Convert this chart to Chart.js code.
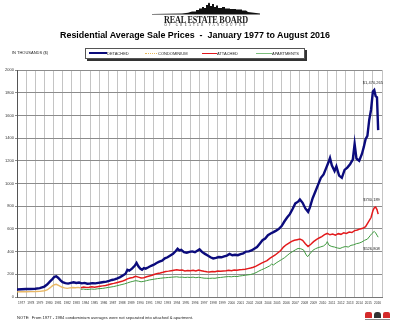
<!DOCTYPE html>
<html><head><meta charset="utf-8">
<script src="https://cdn.jsdelivr.net/npm/chart.js@4.4.1/dist/chart.umd.min.js"></script>
<style>
html,body{margin:0;padding:0;background:#fff;width:400px;height:326px;overflow:hidden;font-family:"Liberation Sans",Arial,sans-serif;}
#wrap{position:relative;width:400px;height:326px;}
canvas{position:absolute;left:0;top:0;}
.abs{position:absolute;white-space:nowrap;}
#title{left:195px;top:30px;font-weight:bold;font-size:9.2px;color:#000;transform:translateX(-50%) scaleX(0.97);transform-origin:50% 0;}
#reb{left:206px;top:12.5px;font-family:"Liberation Serif","DejaVu Serif",serif;font-size:11px;font-weight:bold;color:#1a1a1a;transform:translateX(-50%) scaleX(0.74);transform-origin:50% 0;letter-spacing:-0.2px;}
#ogv{left:206px;top:23px;font-family:"Liberation Serif",serif;font-size:3px;color:#222;letter-spacing:2.3px;transform:translateX(-50%);}
#units{left:12px;top:50px;font-size:4px;color:#222;}
#legend{left:85px;top:48px;width:218px;height:9px;border:1px solid #555;box-shadow:2px 2px 0 #333;background:#fff;}
.lg{position:absolute;top:3.5px;height:0;}
.lt{position:absolute;top:1.5px;font-size:4px;color:#222;}
#note{left:17px;top:315px;font-size:4.1px;color:#222;}
</style></head>
<body><div id="wrap">
<canvas id="c" width="400" height="326"></canvas>
<svg class="abs" style="left:152px;top:2px" width="108" height="13" viewBox="0 0 108 13">
<path d="M0 12 L30 11.4 L36 10.8 L40 9.5 L44 9.5 L44 8 L47 8 L47 6.5 L50 6.5 L50 5 L52 5 L52 6 L54 6 L54 3 L56 3 L56 1.5 L57 0.5 L58 1.5 L58 4 L60 4 L60 2 L62 2 L62 5 L64 5 L64 3.5 L66 3.5 L66 6 L70 6 L70 5 L73 5 L73 6.5 L78 6.5 L78 7 L84 7 L84 7.5 L90 7.5 L90 8.5 L94 8.5 L96 10 L104 11 L108 11.6 L108 12.6 L0 12.6 Z" fill="#111"/>
</svg>
<div id="reb" class="abs">REAL ESTATE BOARD</div>
<div id="ogv" class="abs">OF GREATER VANCOUVER</div>
<div id="title" class="abs">Residential Average Sale Prices&nbsp; - &nbsp;January 1977 to August 2016</div>
<div id="units" class="abs">IN THOUSANDS ($)</div>
<div id="legend" class="abs">
 <div class="lg" style="left:3px;width:18px;border-top:2px solid #0a0a7a;top:3px"></div><div class="lt" style="left:21px">DETACHED</div>
 <div class="lg" style="left:59px;width:12px;border-top:1px dotted #e6b75a"></div><div class="lt" style="left:72px">CONDOMINIUM</div>
 <div class="lg" style="left:116px;width:15px;border-top:1.5px solid #e0161b"></div><div class="lt" style="left:131px">ATTACHED</div>
 <div class="lg" style="left:170px;width:16px;border-top:1.5px solid #7dbf7d"></div><div class="lt" style="left:186px">APARTMENTS</div>
</div>
<div id="note" class="abs">NOTE:&nbsp; From 1977 - 1984 condominium averages were not separated into attached &amp; apartment.</div>
<div class="abs" style="left:365px;top:312px;width:7px;height:6px;background:#d42a2a;border-radius:2px 2px 0 0"></div>
<div class="abs" style="left:374px;top:312px;width:7px;height:6px;background:#333;border-radius:3px 3px 0 0"></div>
<div class="abs" style="left:383px;top:312px;width:7px;height:6px;background:#d42a2a;border-radius:2px 2px 0 0"></div>
<div class="abs" style="left:365px;top:319px;width:25px;height:1px;background:#888"></div>
</div>
<script>
const years = [];
for (let y = 1977; y <= 2016; y++) years.push(String(y));
const yTicks = [0,200,400,600,800,1000,1200,1400,1600,1800,2000];

const detachedX = [1977.0,1977.5,1978.0,1978.5,1979.0,1979.5,1980.0,1980.3,1980.6,1980.9,1981.1,1981.3,1981.5,1981.8,1982.0,1982.3,1982.6,1982.9,1983.2,1983.5,1983.8,1984.1,1984.4,1984.7,1985.0,1985.3,1985.6,1985.9,1986.2,1986.5,1986.8,1987.1,1987.4,1987.7,1988.0,1988.3,1988.6,1988.9,1989.1,1989.3,1989.6,1989.9,1990.1,1990.3,1990.5,1990.7,1990.9,1991.1,1991.4,1991.7,1992.0,1992.3,1992.6,1992.9,1993.2,1993.5,1993.8,1994.1,1994.4,1994.6,1994.8,1995.0,1995.3,1995.6,1995.9,1996.2,1996.5,1996.8,1997.0,1997.3,1997.6,1997.9,1998.2,1998.5,1998.8,1999.1,1999.4,1999.7,2000.0,2000.3,2000.6,2000.9,2001.2,2001.5,2001.8,2002.1,2002.4,2002.7,2003.0,2003.3,2003.6,2003.9,2004.2,2004.5,2004.8,2005.1,2005.4,2005.7,2006.0,2006.3,2006.6,2006.9,2007.2,2007.5,2007.8,2008.0,2008.3,2008.6,2008.9,2009.1,2009.4,2009.7,2010.0,2010.3,2010.6,2010.9,2011.1,2011.3,2011.5,2011.8,2012.0,2012.3,2012.6,2012.9,2013.2,2013.5,2013.8,2014.0,2014.2,2014.5,2014.8,2015.0,2015.2,2015.4,2015.6,2015.8,2016.0,2016.15,2016.3,2016.45,2016.58];
const detachedY = [66,68,70,71,73,78,92,110,135,160,178,182,170,145,130,122,118,125,130,124,127,120,124,117,119,122,120,124,128,132,136,142,150,156,165,175,190,205,240,232,250,275,300,270,250,240,255,250,262,275,285,300,312,320,340,350,365,380,405,425,410,415,395,390,398,402,395,410,420,395,380,365,350,340,345,352,350,358,365,380,368,372,368,378,385,400,402,410,425,440,470,500,515,545,560,572,585,600,625,665,700,730,775,825,840,860,830,780,750,790,870,930,990,1050,1080,1140,1180,1225,1160,1110,1150,1070,1050,1120,1140,1170,1210,1350,1220,1200,1260,1320,1390,1420,1560,1650,1810,1824,1770,1760,1470.265];

const condoX = [1977.0,1977.5,1978.0,1978.5,1979.0,1979.5,1980.0,1980.3,1980.6,1980.9,1981.1,1981.3,1981.6,1981.9,1982.2,1982.5,1982.8,1983.1,1983.4,1983.7,1983.92];
const condoY = [45,46,46,47,48,50,55,62,80,100,108,112,100,88,80,76,80,84,82,85,80];

const attachedX = [1984.0,1984.3,1984.6,1984.9,1985.2,1985.5,1985.8,1986.1,1986.4,1986.7,1987.0,1987.3,1987.6,1987.9,1988.2,1988.5,1988.8,1989.1,1989.4,1989.7,1990.0,1990.3,1990.6,1990.9,1991.2,1991.5,1991.8,1992.1,1992.4,1992.7,1993.0,1993.3,1993.6,1993.9,1994.2,1994.5,1994.8,1995.1,1995.4,1995.7,1996.0,1996.3,1996.6,1996.9,1997.2,1997.5,1997.8,1998.1,1998.4,1998.7,1999.0,1999.3,1999.6,1999.9,2000.2,2000.5,2000.8,2001.1,2001.4,2001.7,2002.0,2002.3,2002.6,2002.9,2003.2,2003.5,2003.8,2004.1,2004.4,2004.7,2005.0,2005.3,2005.6,2005.9,2006.2,2006.5,2006.8,2007.1,2007.4,2007.7,2008.0,2008.3,2008.6,2008.9,2009.2,2009.5,2009.8,2010.1,2010.4,2010.7,2011.0,2011.3,2011.6,2011.9,2012.2,2012.5,2012.8,2013.1,2013.4,2013.7,2014.0,2014.3,2014.6,2014.9,2015.2,2015.5,2015.8,2016.0,2016.15,2016.3,2016.45,2016.58];
const attachedY = [82,88,84,86,90,86,90,94,98,102,108,115,120,126,132,138,148,160,168,172,182,175,168,170,178,185,192,200,208,212,218,225,228,232,236,240,235,238,230,234,232,236,230,238,232,226,222,220,225,222,228,226,230,232,236,232,238,236,240,242,245,250,255,262,272,285,298,310,320,340,355,370,390,410,440,460,475,490,500,505,510,500,470,445,465,488,505,520,532,550,560,548,555,545,558,552,565,560,572,568,585,590,600,605,620,660,700,760,785,792,770,730.189];

const apartmentsX = [1984.0,1984.3,1984.6,1984.9,1985.2,1985.5,1985.8,1986.1,1986.4,1986.7,1987.0,1987.3,1987.6,1987.9,1988.2,1988.5,1988.8,1989.1,1989.4,1989.7,1990.0,1990.3,1990.6,1990.9,1991.2,1991.5,1991.8,1992.1,1992.4,1992.7,1993.0,1993.3,1993.6,1993.9,1994.2,1994.5,1994.8,1995.1,1995.4,1995.7,1996.0,1996.3,1996.6,1996.9,1997.2,1997.5,1997.8,1998.1,1998.4,1998.7,1999.0,1999.3,1999.6,1999.9,2000.2,2000.5,2000.8,2001.1,2001.4,2001.7,2002.0,2002.3,2002.6,2002.9,2003.2,2003.5,2003.8,2004.1,2004.4,2004.7,2004.9,2005.1,2005.4,2005.7,2006.0,2006.3,2006.6,2006.9,2007.2,2007.5,2007.8,2008.1,2008.4,2008.7,2008.85,2009.1,2009.4,2009.7,2010.0,2010.3,2010.6,2010.9,2011.0,2011.2,2011.5,2011.8,2012.1,2012.4,2012.7,2013.0,2013.3,2013.6,2013.9,2014.2,2014.5,2014.8,2015.1,2015.4,2015.7,2015.9,2016.15,2016.3,2016.45,2016.58];
const apartmentsY = [68,70,66,68,70,68,72,74,76,80,84,88,92,98,104,110,116,124,132,138,144,140,134,138,144,150,154,158,162,165,168,170,172,174,176,178,174,175,172,174,172,175,170,174,170,166,165,164,166,165,170,172,175,178,180,178,182,180,185,188,192,195,198,205,215,228,240,250,262,275,290,282,300,315,330,345,365,385,400,415,428,425,415,370,355,380,410,425,435,442,450,470,488,455,445,440,432,428,438,445,440,455,460,470,475,485,500,510,540,560,578,565,545,526.808];

const endLabels = [
  {text:'$1,470,265', x:2016.0, y:1886},
  {text:'$730,189', x:2015.85, y:855},
  {text:'$526,808', x:2015.85, y:423}
];

const pts = (xs, ys) => xs.map((x,i)=>({x:x, y:ys[i]}));

const labelPlugin = {
  id:'endLabels',
  afterDatasetsDraw(chart){
    const ctx = chart.ctx, xs = chart.scales.x, ys = chart.scales.y;
    ctx.save();
    ctx.font = '4px "Liberation Sans", Arial, sans-serif';
    ctx.fillStyle = '#222';
    ctx.textAlign = 'center';
    ctx.textBaseline = 'middle';
    endLabels.forEach(l => ctx.fillText(l.text, xs.getPixelForValue(l.x), ys.getPixelForValue(l.y)));
    ctx.restore();
  }
};

new Chart(document.getElementById('c'), {
  type:'line',
  data:{ datasets:[
    {label:'DETACHED', data:pts(detachedX,detachedY), borderColor:'#0b0b7c', borderWidth:2.4, pointRadius:0, tension:0, xAxisID:'x'},
    {label:'CONDOMINIUM', data:pts(condoX,condoY), borderColor:'#e9b865', borderWidth:1.4, pointRadius:0, tension:0, xAxisID:'x'},
    {label:'ATTACHED', data:pts(attachedX,attachedY), borderColor:'#e31a1c', borderWidth:1.5, pointRadius:0, tension:0, xAxisID:'x'},
    {label:'APARTMENTS', data:pts(apartmentsX,apartmentsY), borderColor:'#3f9a3f', borderWidth:1, pointRadius:0, tension:0, xAxisID:'x'}
  ]},
  options:{
    responsive:false, animation:false, devicePixelRatio:1,
    layout:{padding:{top:70,right:18,left:0,bottom:0}},
    plugins:{legend:{display:false}, tooltip:{enabled:false}},
    scales:{
      x:{type:'linear', min:1977, max:2017, display:false},
      xc:{type:'category', labels:years, position:'bottom', offset:true,
          grid:{offset:true, color:'#c4c4c4', lineWidth:1, drawTicks:false},
          border:{display:true, color:'#777'},
          ticks:{autoSkip:false, maxRotation:0, minRotation:0, padding:4, color:'#333', font:{size:3.2, family:'"Liberation Sans", Arial'}},
          afterFit(s){ s.height = 29; }},
      y:{type:'linear', min:0, max:2000, afterBuildTicks(s){ s.ticks = yTicks.map(v=>({value:v})); },
         grid:{color:'#8c8c8c', lineWidth:1, tickLength:2},
         border:{display:true, color:'#555'},
         ticks:{padding:1, color:'#333', font:{size:4, family:'"Liberation Sans", Arial'}, callback:(v)=>String(v)},
         afterFit(s){ s.width = 17; }}
    }
  },
  plugins:[labelPlugin]
});
</script>
</body></html>
